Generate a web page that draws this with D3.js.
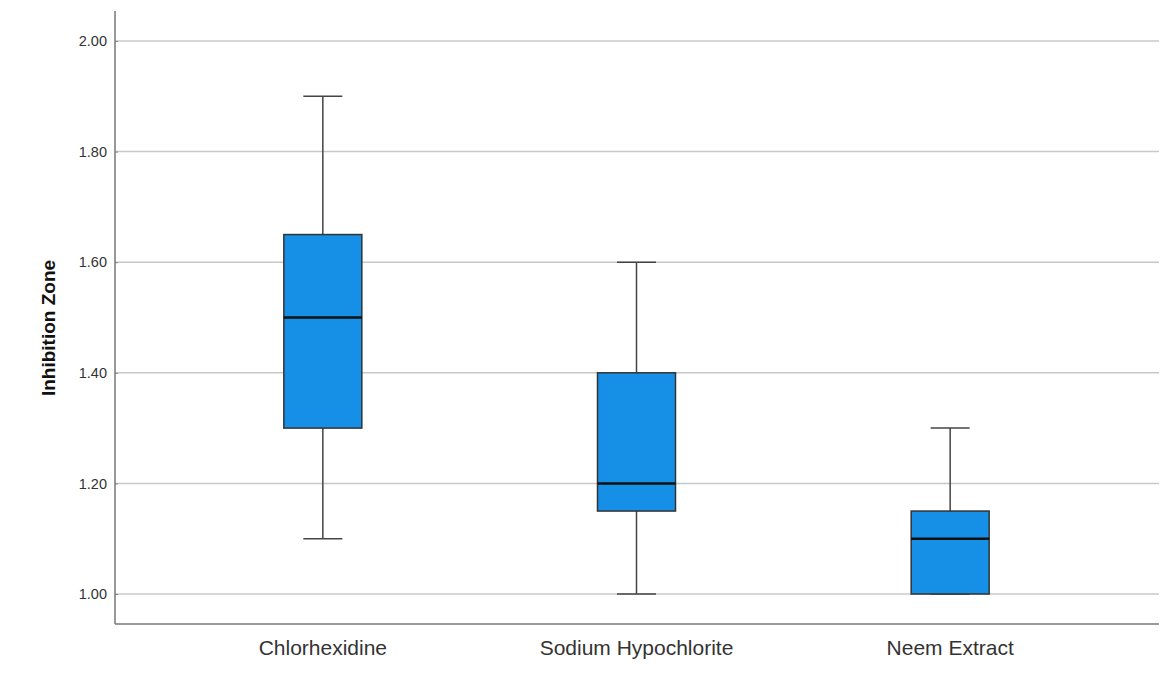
<!DOCTYPE html>
<meta charset="utf-8">
<script src="https://d3js.org/d3.v7.min.js"></script>
<style>
  body { margin: 0; background: #fff; }
  text { font-family: Arial, "Liberation Sans", sans-serif; fill: #222; }
</style>
<div id="chart"></div>
<script>
// Data
var groups = ["Chlorhexidine", "Sodium Hypochlorite", "Neem Extract"];
var mins    = [1.10, 1.00, 1.00];
var q1s     = [1.30, 1.15, 1.00];
var medians = [1.50, 1.20, 1.10];
var q3s     = [1.65, 1.40, 1.15];
var maxs    = [1.90, 1.60, 1.30];
var yTicks  = [1.00, 1.20, 1.40, 1.60, 1.80, 2.00];

var width = 1160, height = 675;
var plotLeft = 115, plotRight = 1159, plotTop = 11, plotBottom = 624;

var svg = d3.select("#chart").append("svg")
  .attr("width", width)
  .attr("height", height);

var y = d3.scaleLinear()
  .domain([1.0, 2.0])
  .range([594, 41]);

var x = d3.scaleBand()
  .domain(groups)
  .range([166, 1107]);

var boxW = 78, capW = 39;

// Gridlines
svg.append("g")
  .selectAll("line")
  .data(yTicks)
  .join("line")
    .attr("x1", plotLeft)
    .attr("x2", plotRight)
    .attr("y1", d => y(d))
    .attr("y2", d => y(d))
    .attr("stroke", "#c8c8c8")
    .attr("stroke-width", 1.5);

// Y axis
var yAxis = svg.append("g")
  .attr("transform", "translate(" + plotLeft + ",0)")
  .call(d3.axisRight(y).tickValues(yTicks).tickSize(3).tickFormat(d3.format(".2f")));
yAxis.select(".domain").remove();
yAxis.selectAll(".tick line").attr("stroke", "#888");
yAxis.selectAll(".tick text")
  .attr("x", -8)
  .attr("text-anchor", "end")
  .style("font-size", "14.5px")
  .style("fill", "#333");

svg.append("line")
  .attr("x1", plotLeft).attr("x2", plotLeft)
  .attr("y1", plotTop).attr("y2", plotBottom)
  .attr("stroke", "#777").attr("stroke-width", 1.5);

// X axis
var xAxis = svg.append("g")
  .attr("transform", "translate(0," + plotBottom + ")")
  .call(d3.axisBottom(x).tickSize(0).tickPadding(16));
xAxis.select(".domain").remove();
xAxis.selectAll(".tick text")
  .style("font-size", "21px")
  .style("fill", "#333");

svg.append("line")
  .attr("x1", plotLeft).attr("x2", plotRight)
  .attr("y1", plotBottom).attr("y2", plotBottom)
  .attr("stroke", "#777").attr("stroke-width", 1.5);

// Y title
svg.append("text")
  .attr("transform", "translate(55,328) rotate(-90)")
  .attr("text-anchor", "middle")
  .style("font-size", "19px")
  .style("font-weight", "bold")
  .style("fill", "#111")
  .text("Inhibition Zone");

// Boxes
var boxes = svg.append("g")
  .selectAll("g")
  .data(groups)
  .join("g")
    .attr("transform", d => "translate(" + (x(d) + x.bandwidth() / 2) + ",0)");

boxes.append("line")
  .attr("y1", (d, i) => y(maxs[i]))
  .attr("y2", (d, i) => y(q3s[i]))
  .attr("stroke", "#444").attr("stroke-width", 1.5);
boxes.append("line")
  .attr("y1", (d, i) => y(q1s[i]))
  .attr("y2", (d, i) => y(mins[i]))
  .attr("stroke", "#444").attr("stroke-width", 1.5);
boxes.append("line")
  .attr("x1", -capW / 2).attr("x2", capW / 2)
  .attr("y1", (d, i) => y(maxs[i])).attr("y2", (d, i) => y(maxs[i]))
  .attr("stroke", "#444").attr("stroke-width", 1.5);
boxes.append("line")
  .attr("x1", -capW / 2).attr("x2", capW / 2)
  .attr("y1", (d, i) => y(mins[i])).attr("y2", (d, i) => y(mins[i]))
  .attr("stroke", "#444").attr("stroke-width", 1.5);

boxes.append("rect")
  .attr("x", -boxW / 2)
  .attr("width", boxW)
  .attr("y", (d, i) => y(q3s[i]))
  .attr("height", (d, i) => y(q1s[i]) - y(q3s[i]))
  .attr("fill", "#1590e6")
  .attr("stroke", "#333")
  .attr("stroke-width", 1.5);

boxes.append("line")
  .attr("x1", -boxW / 2).attr("x2", boxW / 2)
  .attr("y1", (d, i) => y(medians[i])).attr("y2", (d, i) => y(medians[i]))
  .attr("stroke", "#111").attr("stroke-width", 2.5);
</script>
